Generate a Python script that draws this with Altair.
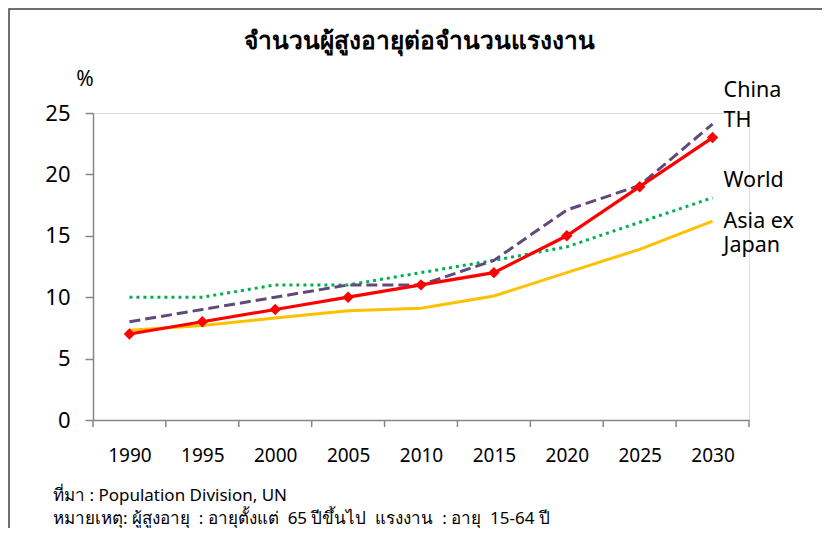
import altair as alt
import pandas as pd

years = [1990, 1995, 2000, 2005, 2010, 2015, 2020, 2025, 2030]
th = [7.0, 8.0, 9.0, 10.0, 11.0, 12.0, 15.0, 19.0, 23.0]
china = [8.0, 9.0, 10.0, 11.0, 11.0, 13.0, 17.1, 19.1, 24.1]
world = [10.0, 10.0, 11.0, 11.0, 12.0, 13.0, 14.1, 16.1, 18.1]
asia = [7.3, 7.7, 8.3, 8.9, 9.1, 10.1, 12.0, 13.9, 16.2]

label_names = ["China", "TH", "World", "Asia ex", "Japan"]
label_vals = [26.8, 24.35, 19.5, 16.1, 14.2]

NB = "\u00a0"
title = "จำนวนผู้สูงอายุต่อจำนวนแรงงาน"
note1 = "ที่มา" + NB + ":" + NB + "Population Division," + NB + "UN"
note2 = ("หมายเหตุ: ผู้สูงอายุ" + NB + NB + ": อายุตั้งแต่" + NB + NB + "65 ปีขึ้นไป"
         + NB + NB + "แรงงาน" + NB + NB + ": อายุ" + NB + NB + "15-64 ปี")

FONT = "Noto Sans"
W, H = 656, 307

xs = alt.Scale(domain=[1987.5, 2032.5], nice=False, zero=False)
ys = alt.Scale(domain=[0, 25], nice=False)


def series_df(vals):
    return pd.DataFrame({"year": years, "v": vals})


def line(vals, color, dash=None, width=3.0):
    kw = dict(color=color, strokeWidth=width)
    if dash:
        kw["strokeDash"] = dash
    return alt.Chart(series_df(vals)).mark_line(**kw).encode(
        x=alt.X("year:Q", scale=xs,
                axis=alt.Axis(values=years, format="d", ticks=False, labelPadding=26,
                              labelFontSize=19, labelColor="black", labelFont=FONT,
                              domainColor="#868686", domainWidth=1.5, title=None, grid=False)),
        y=alt.Y("v:Q", scale=ys,
                axis=alt.Axis(values=[0, 5, 10, 15, 20, 25], tickSize=8, tickColor="#868686",
                              tickWidth=1.5, labelPadding=15, labelFontSize=22,
                              labelColor="black", labelFont=FONT, domainColor="#868686",
                              domainWidth=1.5, title=None, grid=False)),
    )


asia_l = line(asia, "#FFC000")
world_l = line(world, "#00B050", dash=[3, 4])
china_l = line(china, "#604A7B", dash=[11, 5])
th_l = line(th, "#FF0000", width=3.2)
th_p = alt.Chart(series_df(th)).mark_point(shape="diamond", filled=True, size=130,
                                           color="#FF0000", opacity=1).encode(
    x=alt.X("year:Q", scale=xs), y=alt.Y("v:Q", scale=ys))

bounds = pd.DataFrame({"b": [1987.5 + 5 * i for i in range(10)]})
xticks = alt.Chart(bounds).mark_rule(color="#868686", strokeWidth=1.5).encode(
    x=alt.X("b:Q", scale=xs), y=alt.value(H), y2=alt.value(H + 7))

labels_df = pd.DataFrame({"name": label_names, "v": label_vals,
                          "year": [2030] * len(label_names)})
labels = alt.Chart(labels_df).mark_text(align="left", baseline="middle", dx=11,
                                        fontSize=21.5, font=FONT, color="black").encode(
    x=alt.X("year:Q", scale=xs), y=alt.Y("v:Q", scale=ys), text="name:N")


def note(text, x, y, size, align="left", weight="normal"):
    return alt.Chart(pd.DataFrame({"t": [text]})).mark_text(
        align=align, baseline="middle", fontSize=size, font=FONT, fontWeight=weight,
        color="black").encode(x=alt.value(x), y=alt.value(y), text="t:N")


title_t = note(title, W / 2 - 2, -71, 24.5, align="center", weight="bold")
pct = note("%", -8, -33, 21, align="center")
n1 = note(note1, -40, 383, 17)
n2 = note(note2, -40, 406, 17)

frame = alt.Chart(pd.DataFrame({"a": [0]})).mark_rect(
    fill=None, stroke="#404040", strokeWidth=1.5).encode(
    x=alt.value(-84), x2=alt.value(900), y=alt.value(-104), y2=alt.value(700))

chart = alt.layer(frame, xticks, asia_l, world_l, china_l, th_l, th_p, labels,
                  title_t, pct, n1, n2).properties(
    width=W, height=H,
    padding={"left": 85, "top": 105, "right": 73, "bottom": 108},
    autosize=alt.AutoSizeParams(type="none"),
).configure_view(stroke=None).configure(background="white")

chart.save("out.html", embed_options={"renderer": "svg", "actions": False})
